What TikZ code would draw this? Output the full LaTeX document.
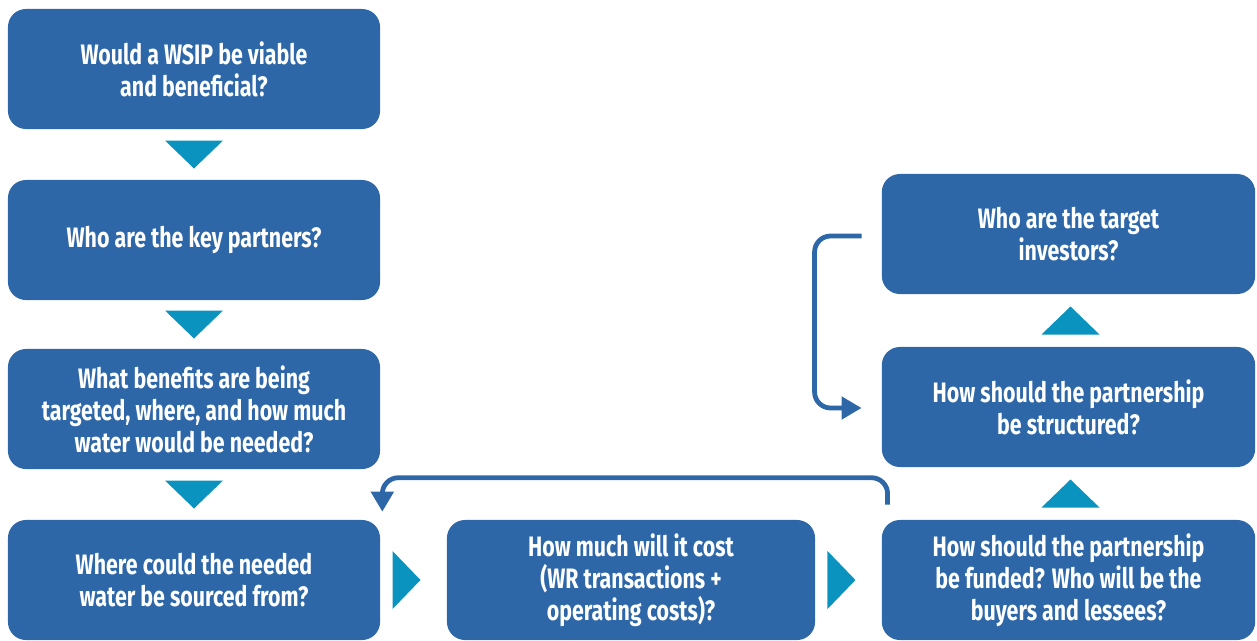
\documentclass[tikz,border=0pt]{standalone}
\usepackage{fontspec}
\setmainfont{Fira Sans}[FakeStretch=0.76]
\usetikzlibrary{arrows.meta}
\usetikzlibrary{calc}
\definecolor{kasten}{RGB}{46, 103, 168}
\definecolor{pfeil}{RGB}{10, 147, 190}

\begin{document}
\begin{tikzpicture}[x=0.025cm, y=-0.025cm,
    frage/.style={fill=kasten, text=white, rounded corners=0.45cm, align=center,
        minimum height=3cm, inner sep=0pt,
        font=\bfseries\fontsize{20}{22.7}\selectfont},
    dreieck/.style={fill=pfeil},
    schleife/.style={draw=kasten, line width=3.4pt, rounded corners=0.4cm,
        -{Triangle[width=0.55cm, length=0.5cm]}}]

    \useasboundingbox (0,0) rectangle (1257,640);

    % linke Spalte
    \node[frage, minimum width=9.3cm] (q1) at (194,69) {Would a WSIP be viable\\and beneficial?};
    \node[frage, minimum width=9.3cm] (q2) at (194,240) {Who are the key partners?};
    \node[frage, minimum width=9.3cm] (q3) at (194,409) {What benefits are being\\targeted, where, and how much\\water would be needed?};
    \node[frage, minimum width=9.3cm] (q4) at (194,580) {Where could the needed\\water be sourced from?};

    \node[frage, minimum width=9.2cm] (q5) at (631,580) {How much will it cost\\(WR transactions +\\operating costs)?};

    % rechte Spalte
    \node[frage, minimum width=9.33cm] (q6) at (1068.5,580) {How should the partnership\\be funded? Who will be the\\buyers and lessees?};
    \node[frage, minimum width=9.33cm] (q7) at (1068.5,407) {How should the partnership\\be structured?};
    \node[frage, minimum width=9.33cm] (q8) at (1068.5,234) {Who are the target\\investors?};

    \foreach \a/\b in {q1/q2, q2/q3, q3/q4}
        \fill[dreieck] ($(\a.south)!0.5!(\b.north)$) ++(-29,-14) -- ++(58,0) -- ++(-29,28) -- cycle;
    \foreach \a/\b in {q4/q5, q5/q6}
        \fill[dreieck] ($(\a.east)!0.5!(\b.west)$) ++(-21,-29) -- ++(0,58) -- ++(28,-29) -- cycle;
    \foreach \a/\b in {q6/q7, q7/q8}
        \fill[dreieck] ($(\a.north)!0.5!(\b.south)$) ++(-27,14) -- ++(58,0) -- ++(-29,-28) -- cycle;

    \draw[schleife] ([shift={(6,-15)}]q6.north west) |- ($([shift={(2,-8)}]q4.north east)+(0,-34)$)
        -- ([shift={(2,-8)}]q4.north east);
    \draw[schleife] ([shift={(-20,2)}]q8.west) -| ($([shift={(-20,1)}]q7.west)+(-47,0)$)
        -- ([shift={(-20,1)}]q7.west);

\end{tikzpicture}
\end{document}
